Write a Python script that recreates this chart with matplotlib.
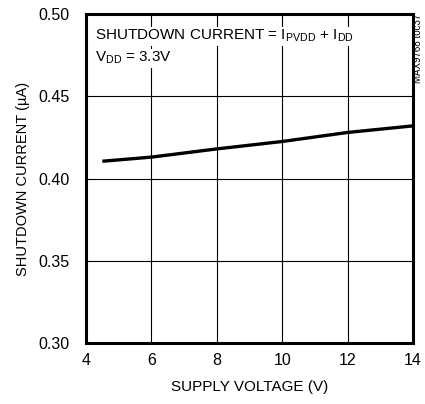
import matplotlib
matplotlib.use("Agg")
from matplotlib import pyplot as plt

plt.rcParams['font.family'] = ['Liberation Sans', 'DejaVu Sans']
plt.rcParams['mathtext.fontset'] = 'custom'
plt.rcParams['mathtext.rm'] = 'Liberation Sans'
plt.rcParams['mathtext.it'] = 'Liberation Sans'

# supply voltage (V) vs shutdown current (uA)
voltage = [4.5, 6, 8, 10, 12, 14]
current = [0.4105, 0.4130, 0.4180, 0.4225, 0.4280, 0.4320]

xticks = [4, 6, 8, 10, 12, 14]
yticks = [0.30, 0.35, 0.40, 0.45, 0.50]

fig = plt.figure(figsize=(4.25, 4.04), dpi=100)
ax = fig.add_axes([0.2024, 0.151, 0.7694, 0.8143])

ax.plot(voltage, current, color='k', lw=2.4, solid_capstyle='butt')

ax.set_xlim(4, 14)
ax.set_ylim(0.30, 0.50)
ax.set_xticks(xticks)
ax.set_yticks(yticks)
ax.set_xticklabels([str(t) for t in xticks])
ax.set_yticklabels(['%.2f' % t for t in yticks])
ax.grid(True, color='k', lw=0.8)
ax.tick_params(axis='y', length=0, labelsize=11.5, pad=12)
ax.tick_params(axis='x', length=0, labelsize=11.5, pad=7)
for s in ax.spines.values():
    s.set_linewidth(2.2)

ax.set_xlabel('SUPPLY VOLTAGE (V)', fontsize=11, labelpad=9)
ax.set_ylabel('SHUTDOWN CURRENT (\u00b5A)', fontsize=10.5, labelpad=6)

# condition notes, white behind each line so grid lines break around them
box = dict(facecolor='white', edgecolor='none', pad=1.0)
ax.text(4.28, 0.4842, r'SHUTDOWN CURRENT = I$_{\mathrm{PVDD}}$ + I$_{\mathrm{DD}}$',
        fontsize=11, va='baseline', ha='left', bbox=box)
ax.text(4.28, 0.4708, r'V$_{\mathrm{DD}}$ = 3.3V',
        fontsize=11, va='baseline', ha='left', bbox=box)

fig.text(0.983, 0.965, 'MAX9768 toc37', rotation=90, fontsize=7, ha='center', va='top')

fig.savefig('out.png', dpi=100)
